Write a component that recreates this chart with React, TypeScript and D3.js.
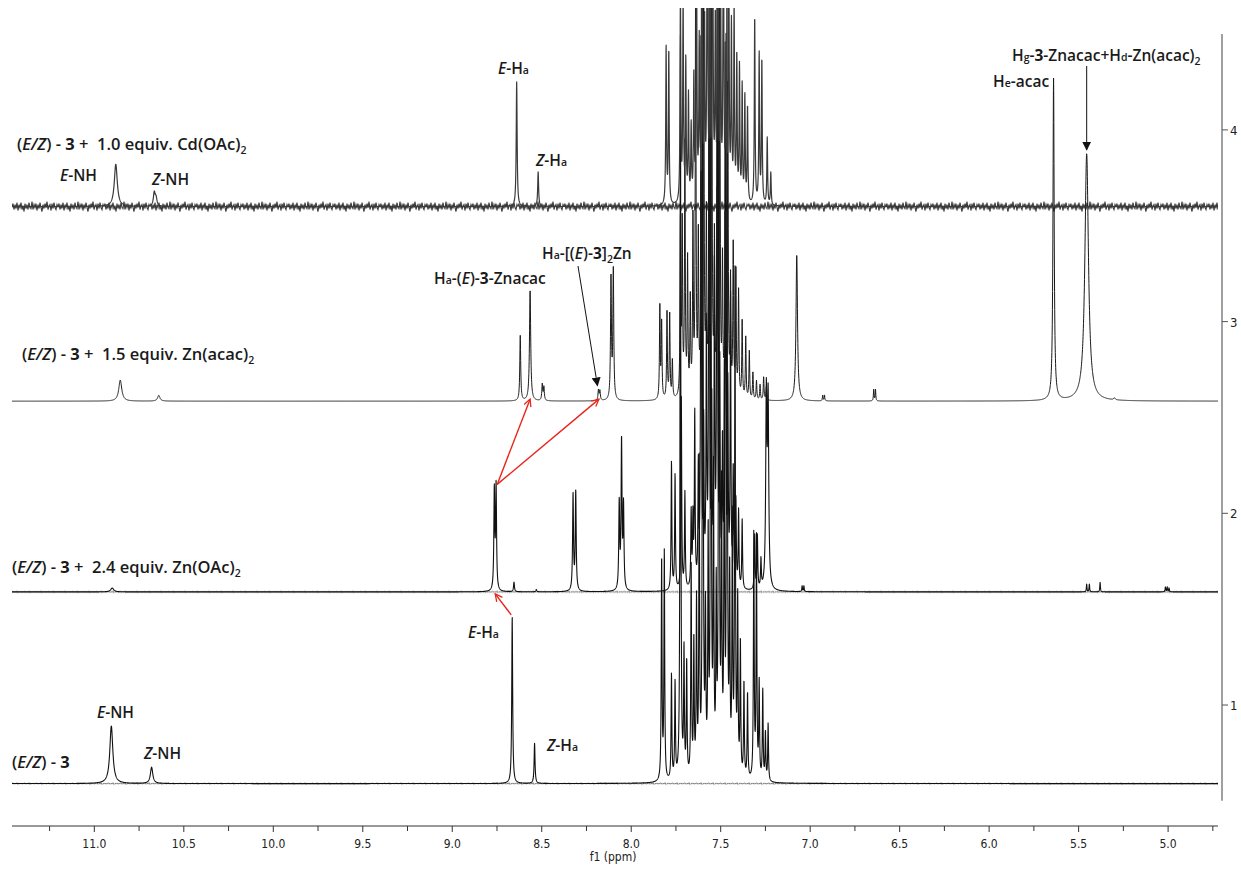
import React, { useMemo } from 'react';
import * as d3 from 'd3';

const W = 1241;
const H = 870;

// chemical shift axis (reversed) and intensity axis
const ppmDomain = [11.46, 4.71];
const ppmTicks = [11.0, 10.5, 10.0, 9.5, 9.0, 8.5, 8.0, 7.5, 7.0, 6.5, 6.0, 5.5, 5.0];
const ppmMinorTicks = [11.25, 10.75, 10.25, 9.75, 9.25, 8.75, 8.25, 7.75, 7.25, 6.75, 6.25, 5.75, 5.25, 4.75];
const intensityTicks = [1, 2, 3, 4];

// baseline offset of each trace (stacked)
const baseE3 = 0.59;
const baseZnOAc = 1.59;
const baseZnAcac = 2.585;
const baseCd = 3.6;

// peaks: [ppm, height above baseline, half width]
const peaksE3 = [
  [10.905, 0.3, 0.01], [10.68, 0.085, 0.008],
  [8.665, 0.87, 0.003], [8.54, 0.21, 0.003],
  [7.83, 1.16, 0.0025], [7.815, 1.19, 0.0025],
  [7.775, 0.55, 0.0025], [7.755, 0.5, 0.0025],
  [7.725, 3.9, 0.0025], [7.705, 0.65, 0.0025], [7.69, 0.6, 0.0025],
  [7.665, 1.1, 0.0025], [7.65, 0.7, 0.0025], [7.635, 0.9, 0.0025], [7.62, 1.6, 0.0025],
  [7.6, 4.3, 0.0025], [7.585, 0.8, 0.0025], [7.57, 1.2, 0.0025], [7.555, 4.2, 0.0025],
  [7.54, 1.5, 0.0025], [7.525, 0.9, 0.0025], [7.51, 4.5, 0.0025], [7.495, 1.4, 0.0025],
  [7.48, 2.0, 0.0025], [7.465, 4.1, 0.0025], [7.45, 1.0, 0.0025], [7.435, 1.3, 0.0025],
  [7.42, 2.6, 0.0025], [7.405, 0.9, 0.0025], [7.39, 0.7, 0.0025], [7.37, 0.5, 0.0025],
  [7.35, 0.45, 0.0025],
  [7.315, 1.28, 0.0025], [7.3, 1.25, 0.0025], [7.285, 0.5, 0.0025], [7.265, 0.47, 0.0025],
  [7.25, 0.25, 0.0025], [7.235, 0.3, 0.0025],
];

const peaksZnOAc = [
  [10.9, 0.02, 0.01],
  [8.765, 0.52, 0.003], [8.755, 0.54, 0.003],
  [8.655, 0.05, 0.003], [8.53, 0.012, 0.003],
  [8.325, 0.5, 0.003], [8.31, 0.52, 0.003],
  [8.067, 0.45, 0.003], [8.054, 0.77, 0.003], [8.043, 0.43, 0.003],
  [7.775, 0.67, 0.0025], [7.755, 0.6, 0.0025], [7.72, 1.0, 0.0025], [7.7, 0.5, 0.0025],
  [7.665, 0.39, 0.0025], [7.655, 0.35, 0.0025], [7.645, 0.9, 0.0025], [7.625, 0.6, 0.0025],
  [7.61, 2.9, 0.0025], [7.595, 0.8, 0.0025], [7.58, 1.3, 0.0025], [7.565, 3.2, 0.0025],
  [7.55, 0.9, 0.0025], [7.535, 1.6, 0.0025], [7.52, 3.4, 0.0025], [7.505, 1.1, 0.0025],
  [7.49, 0.7, 0.0025], [7.475, 2.8, 0.0025], [7.46, 1.0, 0.0025], [7.445, 1.5, 0.0025],
  [7.43, 0.6, 0.0025], [7.415, 0.45, 0.0025], [7.4, 0.4, 0.0025], [7.38, 0.36, 0.0025],
  [7.31, 0.29, 0.0025], [7.295, 0.28, 0.0025], [7.275, 0.15, 0.0025],
  [7.245, 0.98, 0.004], [7.235, 0.95, 0.004],
  [7.045, 0.03, 0.002], [7.035, 0.03, 0.002],
  [5.455, 0.04, 0.002], [5.44, 0.04, 0.002], [5.38, 0.05, 0.002],
  [5.015, 0.025, 0.002], [5.005, 0.025, 0.002], [4.995, 0.02, 0.002],
];

const peaksZnAcac = [
  [10.855, 0.11, 0.01], [10.64, 0.03, 0.008],
  [8.62, 0.34, 0.003], [8.565, 0.575, 0.004],
  [8.497, 0.085, 0.003], [8.488, 0.07, 0.003],
  [8.183, 0.055, 0.003], [8.175, 0.05, 0.003],
  [8.113, 0.63, 0.003], [8.1, 0.67, 0.003],
  [7.84, 0.48, 0.0025], [7.83, 0.4, 0.0025], [7.8, 0.45, 0.0025], [7.785, 0.44, 0.0025],
  [7.77, 0.2, 0.0025], [7.725, 0.9, 0.0025], [7.715, 0.88, 0.0025], [7.7, 1.3, 0.0025],
  [7.685, 0.7, 0.0025], [7.67, 0.5, 0.0025], [7.655, 0.9, 0.0025],
  [7.64, 2.2, 0.0025], [7.625, 0.8, 0.0025], [7.61, 1.1, 0.0025], [7.595, 2.4, 0.0025],
  [7.58, 0.9, 0.0025], [7.565, 1.3, 0.0025], [7.55, 2.3, 0.0025], [7.535, 0.8, 0.0025],
  [7.52, 1.0, 0.0025], [7.505, 2.1, 0.0025], [7.49, 0.7, 0.0025], [7.475, 0.9, 0.0025],
  [7.46, 1.6, 0.0025], [7.445, 0.6, 0.0025], [7.43, 0.8, 0.0025],
  [7.415, 0.65, 0.0025], [7.4, 0.55, 0.0025], [7.38, 0.4, 0.0025], [7.36, 0.32, 0.0025],
  [7.34, 0.25, 0.0025], [7.32, 0.14, 0.0025], [7.3, 0.1, 0.0025], [7.28, 0.08, 0.0025],
  [7.26, 0.12, 0.0025], [7.245, 0.07, 0.0025],
  [7.075, 0.76, 0.005],
  [6.93, 0.03, 0.002], [6.92, 0.03, 0.002],
  [6.645, 0.06, 0.002], [6.635, 0.06, 0.002],
  [5.64, 1.68, 0.004], [5.455, 1.29, 0.012], [5.3, 0.01, 0.005],
];

const peaksCd = [
  [10.88, 0.22, 0.01], [10.665, 0.07, 0.006], [10.655, 0.04, 0.006],
  [8.64, 0.65, 0.003], [8.52, 0.18, 0.003],
  [7.805, 0.82, 0.0025], [7.79, 0.8, 0.0025],
  [7.725, 1.1, 0.0025], [7.71, 1.05, 0.0025], [7.695, 0.73, 0.0025], [7.68, 0.55, 0.0025],
  [7.665, 0.39, 0.0025], [7.65, 0.65, 0.0025],
  [7.635, 1.4, 0.0025], [7.62, 0.8, 0.0025], [7.605, 1.9, 0.0025], [7.59, 0.9, 0.0025],
  [7.575, 2.0, 0.0025], [7.56, 1.0, 0.0025], [7.545, 2.1, 0.0025], [7.53, 0.9, 0.0025],
  [7.515, 1.9, 0.0025], [7.5, 1.0, 0.0025], [7.485, 1.8, 0.0025], [7.47, 0.8, 0.0025],
  [7.455, 1.5, 0.0025], [7.44, 0.9, 0.0025], [7.425, 1.0, 0.0025], [7.41, 0.75, 0.0025],
  [7.395, 0.7, 0.0025], [7.38, 0.6, 0.0025], [7.365, 0.55, 0.0025], [7.35, 0.5, 0.0025],
  [7.31, 0.98, 0.0025], [7.285, 0.78, 0.0025], [7.27, 0.75, 0.0025],
  [7.24, 0.35, 0.0025], [7.22, 0.17, 0.0025],
];

const traces = [
  { name: 'e3', base: baseE3, peaks: peaksE3, color: '#111', width: 1.1 },
  { name: 'znoac', base: baseZnOAc, peaks: peaksZnOAc, color: '#111', width: 1.1 },
  { name: 'znacac', base: baseZnAcac, peaks: peaksZnAcac, color: '#1a1a1a', width: 1.0 },
  { name: 'cd', base: baseCd, peaks: peaksCd, color: '#3a3a3a', width: 1.2 },
];

const labelFont = "'Open Sans', 'Noto Sans', sans-serif";
const tickFont = "'DejaVu Sans Condensed', 'DejaVu Sans', sans-serif";

const App = () => {
  const x = d3.scaleLinear().domain(ppmDomain).range([12, 1220]);
  const y = d3.scaleLinear().domain([0.5, 4.5]).range([800.85, 34.05]);

  const paths = useMemo(() => {
    const grid = d3.range(ppmDomain[0], ppmDomain[1], -0.0008);
    const line = d3.line<[number, number]>().x(d => x(d[0])).y(d => y(d[1]));
    return traces.map(t => {
      const pts = grid.map(p => [
        p,
        t.base + d3.sum(t.peaks, ([c, h, w]) => h / (1 + ((p - c) / w) ** 2)),
      ] as [number, number]);
      return { ...t, d: line(pts) };
    });
  }, []);

  const axisY = 826;
  const yAxisX = 1222;
  const noiseY = y(baseCd) - 6;

  // annotation anchor points, tied to peaks
  const topOf = (base: number, peak: number[]) => [x(peak[0]), y(base + peak[1])];
  const [znArrowX] = topOf(baseZnAcac, peaksZnAcac[6]);
  const [hgX, hgY] = topOf(baseZnAcac, peaksZnAcac[peaksZnAcac.length - 2]);
  const redFrom = [x(8.76) + 2, y(baseZnOAc + 0.54) - 4];

  const txt = { fontFamily: labelFont, fontSize: 15.5, fontWeight: 600, fill: '#1a1a1a', whiteSpace: 'pre' as const };
  const big = { ...txt, fontSize: 16.5 };
  const sub = { fontSize: 10.5 };

  return (
    <svg width={W} height={H} style={{ display: 'block', position: 'absolute', left: 0, top: 0, background: '#fff' }}>
      <defs>
        <clipPath id="plotClip">
          <rect x={12} y={8} width={1206} height={800} />
        </clipPath>
        <pattern id="noiseBig" x={12} y={noiseY} width={46} height={12} patternUnits="userSpaceOnUse">
          <polyline
            points="0,6 1,3 2,9 3,4 4,8 5,2 6,10 7,4 8,7 9,2 10,9 11,5 12,11 13,3 14,8 15,4 16,9 17,2 18,7 19,8 20,1 21,9 22,4 23,7 24,3 25,10 26,4 27,8 28,2 29,7 30,11 31,4 32,8 33,3 34,7 35,1 36,9 37,5 38,4 39,10 40,3 41,8 42,2 43,7 44,9 45,4 46,6"
            fill="none" stroke="#333" strokeWidth={1.1}
          />
        </pattern>
        <pattern id="noiseSmallA" x={12} y={y(baseE3) - 1.5} width={12} height={3} patternUnits="userSpaceOnUse">
          <polyline points="0,1.5 1,0.8 2,2.2 3,1.2 4,2 5,0.6 6,2.4 7,1.4 8,1.9 9,0.9 10,2.1 11,1.3 12,1.5" fill="none" stroke="#222" strokeWidth={0.6} />
        </pattern>
        <pattern id="noiseSmallB" x={12} y={y(baseZnOAc) - 1.5} width={12} height={3} patternUnits="userSpaceOnUse">
          <polyline points="0,1.5 1,0.8 2,2.2 3,1.2 4,2 5,0.6 6,2.4 7,1.4 8,1.9 9,0.9 10,2.1 11,1.3 12,1.5" fill="none" stroke="#222" strokeWidth={0.6} />
        </pattern>
        <marker id="openRed" viewBox="0 0 10 10" refX={9} refY={5} markerWidth={9} markerHeight={9} orient="auto" markerUnits="userSpaceOnUse">
          <path d="M1,1 L9,5 L1,9" fill="none" stroke="#e8251c" strokeWidth={1.4} />
        </marker>
        <marker id="solidBlack" viewBox="0 0 10 10" refX={9} refY={5} markerWidth={9} markerHeight={9} orient="auto" markerUnits="userSpaceOnUse">
          <path d="M0,0 L10,5 L0,10 Z" fill="#111" />
        </marker>
      </defs>

      {/* baseline noise */}
      <rect x={12} y={noiseY} width={1206} height={12} fill="url(#noiseBig)" />
      <rect x={12} y={y(baseE3) - 1.5} width={1206} height={3} fill="url(#noiseSmallA)" />
      <rect x={12} y={y(baseZnOAc) - 1.5} width={1206} height={3} fill="url(#noiseSmallB)" />

      <g clipPath="url(#plotClip)">
        {paths.map(p => (
          <path key={p.name} d={p.d || ''} fill="none" stroke={p.color} strokeWidth={p.width} strokeLinejoin="round" />
        ))}
      </g>

      {/* bottom axis */}
      <g fontFamily={tickFont} fontSize={12} fill="#222">
        <line x1={12} x2={1218} y1={axisY} y2={axisY} stroke="#333" strokeWidth={1} />
        {ppmTicks.map(t => (
          <g key={t}>
            <line x1={x(t)} x2={x(t)} y1={axisY} y2={axisY + 6} stroke="#333" />
            <text x={x(t)} y={axisY + 22} textAnchor="middle">{t.toFixed(1)}</text>
          </g>
        ))}
        {ppmMinorTicks.map(t => (
          <line key={t} x1={x(t)} x2={x(t)} y1={axisY} y2={axisY + 5} stroke="#333" />
        ))}
        <text x={613} y={axisY + 35} textAnchor="middle">f1 (ppm)</text>
      </g>

      {/* right intensity axis */}
      <g fontFamily={tickFont} fontSize={13} fill="#222">
        <line x1={yAxisX} x2={yAxisX} y1={y(4.5)} y2={y(0.5)} stroke="#888" strokeWidth={1.6} />
        {intensityTicks.map(t => (
          <g key={t}>
            <line x1={yAxisX} x2={yAxisX + 6} y1={y(t)} y2={y(t)} stroke="#555" />
            <text x={yAxisX + 8} y={y(t) + 5}>{t}</text>
          </g>
        ))}
      </g>

      {/* trace titles */}
      <text x={17} y={150} style={big}>
        (<tspan fontStyle="italic">E/Z</tspan>) - <tspan fontWeight={700}>3</tspan>{' +  1.0 equiv. Cd(OAc)'}
        <tspan {...sub} dy={4}>2</tspan>
      </text>
      <text x={22} y={360} style={big}>
        (<tspan fontStyle="italic">E/Z</tspan>) - <tspan fontWeight={700}>3</tspan>{' +  1.5 equiv. Zn(acac)'}
        <tspan {...sub} dy={4}>2</tspan>
      </text>
      <text x={12} y={573} style={big}>
        (<tspan fontStyle="italic">E/Z</tspan>) - <tspan fontWeight={700}>3</tspan>{' +  2.4 equiv. Zn(OAc)'}
        <tspan {...sub} dy={4}>2</tspan>
      </text>
      <text x={12} y={768} style={big}>
        (<tspan fontStyle="italic">E/Z</tspan>) - <tspan fontWeight={700}>3</tspan>
      </text>

      {/* peak labels, Cd trace */}
      <text x={60} y={181} style={txt}><tspan fontStyle="italic">E</tspan>-NH</text>
      <text x={152} y={185} style={txt}><tspan fontStyle="italic">Z</tspan>-NH</text>
      <text x={498} y={74} style={txt}><tspan fontStyle="italic">E</tspan>-H<tspan {...sub}>a</tspan></text>
      <text x={536} y={166} style={txt}><tspan fontStyle="italic">Z</tspan>-H<tspan {...sub}>a</tspan></text>
      <text x={993} y={87} style={txt}>H<tspan {...sub}>e</tspan>-acac</text>
      <text x={1012} y={61} style={txt}>
        H<tspan {...sub}>g</tspan>-<tspan fontWeight={700}>3</tspan>-Znacac+H<tspan {...sub}>d</tspan>-Zn(acac)
        <tspan {...sub} dy={4}>2</tspan>
      </text>

      {/* Zn(acac)2 trace labels */}
      <text x={434} y={284} style={txt}>
        H<tspan {...sub}>a</tspan>-(<tspan fontStyle="italic">E</tspan>)-<tspan fontWeight={700}>3</tspan>-Znacac
      </text>
      <text x={542} y={259} style={txt}>
        H<tspan {...sub}>a</tspan>-[(<tspan fontStyle="italic">E</tspan>)-<tspan fontWeight={700}>3</tspan>]
        <tspan {...sub} dy={4}>2</tspan><tspan dy={-4}>Zn</tspan>
      </text>

      {/* bottom trace labels */}
      <text x={468} y={638} style={txt}><tspan fontStyle="italic">E</tspan>-H<tspan {...sub}>a</tspan></text>
      <text x={547} y={751} style={txt}><tspan fontStyle="italic">Z</tspan>-H<tspan {...sub}>a</tspan></text>
      <text x={97} y={718} style={txt}><tspan fontStyle="italic">E</tspan>-NH</text>
      <text x={144} y={759} style={txt}><tspan fontStyle="italic">Z</tspan>-NH</text>

      {/* black arrows */}
      <line x1={578} y1={266} x2={znArrowX - 1} y2={y(baseZnAcac + 0.06) - 4} stroke="#111" strokeWidth={1} markerEnd="url(#solidBlack)" />
      <line x1={hgX} y1={66} x2={hgX} y2={hgY - 4} stroke="#111" strokeWidth={1} markerEnd="url(#solidBlack)" />

      {/* red arrows */}
      <line x1={redFrom[0]} y1={redFrom[1]} x2={x(8.565)} y2={y(baseZnAcac) - 2} stroke="#e8251c" strokeWidth={1.4} markerEnd="url(#openRed)" />
      <line x1={redFrom[0]} y1={redFrom[1]} x2={x(8.18)} y2={y(baseZnAcac) - 2} stroke="#e8251c" strokeWidth={1.4} markerEnd="url(#openRed)" />
      <line x1={x(8.665) - 1} y1={y(baseE3 + 0.87) - 2} x2={x(8.76)} y2={y(baseZnOAc) + 2} stroke="#e8251c" strokeWidth={1.4} markerEnd="url(#openRed)" />
    </svg>
  );
};

export default App;
